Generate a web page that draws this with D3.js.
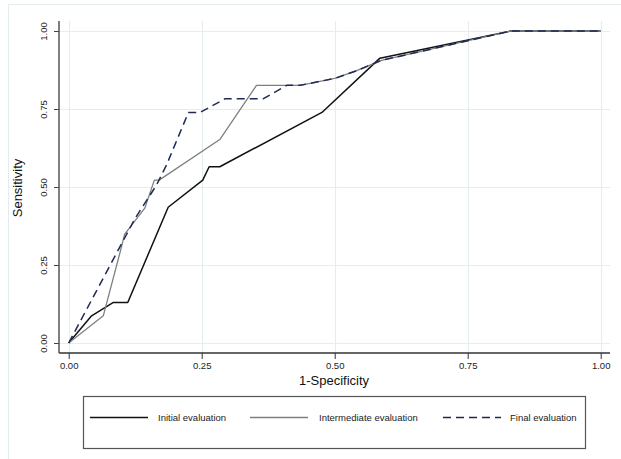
<!DOCTYPE html>
<html>
<head>
<meta charset="utf-8">
<script src="https://cdn.jsdelivr.net/npm/d3@7"></script>
<style>
  body { margin: 0; background: #fff; }
  text { font-family: "Liberation Sans", Arial, Helvetica, sans-serif; }
</style>
</head>
<body>
<script>
// ROC curves, values
var initialX = [0, 0.043, 0.084, 0.111, 0.187, 0.252, 0.264, 0.284, 0.476, 0.585, 0.831, 1];
var initialY = [0, 0.087, 0.130, 0.130, 0.435, 0.522, 0.565, 0.565, 0.739, 0.913, 1, 1];

var interX = [0, 0.065, 0.098, 0.105, 0.143, 0.161, 0.170, 0.284, 0.353, 0.435, 0.5, 0.54, 0.588, 0.831, 1];
var interY = [0, 0.087, 0.30, 0.348, 0.432, 0.522, 0.522, 0.652, 0.826, 0.826, 0.848, 0.872, 0.906, 1, 1];

var finalX = [0, 0.125, 0.165, 0.184, 0.225, 0.247, 0.294, 0.366, 0.41, 0.435, 0.5, 0.54, 0.588, 0.831, 1];
var finalY = [0, 0.40, 0.506, 0.571, 0.739, 0.739, 0.783, 0.783, 0.826, 0.826, 0.848, 0.872, 0.906, 1, 1];

var ticks = [0, 0.25, 0.5, 0.75, 1];
var tickLabels = ['0.00', '0.25', '0.50', '0.75', '1.00'];

var seriesNames = ['Initial evaluation', 'Intermediate evaluation', 'Final evaluation'];

var width = 621, height = 459;

var svg = d3.select('body').append('svg')
  .attr('width', width)
  .attr('height', height);

// outer graph region frame (light)
svg.append('rect')
  .attr('x', 8.5).attr('y', 4.5)
  .attr('width', 640).attr('height', 480)
  .attr('fill', 'none')
  .attr('stroke', '#e3ecef');

var x = d3.scaleLinear().domain([0, 1]).range([68.7, 600.7]);
var y = d3.scaleLinear().domain([0, 1]).range([343, 31]);

var plotLeft = 59, plotRight = 610, plotTop = 21, plotBottom = 353;

// grid lines
var grid = svg.append('g');
grid.selectAll('.gy').data(ticks).enter().append('line')
  .attr('x1', plotLeft).attr('x2', plotRight)
  .attr('y1', function(d) { return Math.round(y(d)) + 0.5; })
  .attr('y2', function(d) { return Math.round(y(d)) + 0.5; })
  .attr('stroke', '#e4eef1').attr('stroke-width', 1.2);
grid.selectAll('.gx').data(ticks).enter().append('line')
  .attr('y1', plotTop).attr('y2', plotBottom)
  .attr('x1', function(d) { return Math.round(x(d)) + 0.5; })
  .attr('x2', function(d) { return Math.round(x(d)) + 0.5; })
  .attr('stroke', '#e4eef1').attr('stroke-width', 1.2);

// axes
var xAxis = d3.axisBottom(x).tickValues(ticks)
  .tickFormat(function(d, i) { return tickLabels[i]; })
  .tickSize(6).tickPadding(3);
var yAxis = d3.axisLeft(y).tickValues(ticks)
  .tickFormat(function(d, i) { return tickLabels[i]; })
  .tickSize(5).tickPadding(4);

var gx = svg.append('g')
  .attr('transform', 'translate(0,' + plotBottom + ')')
  .call(xAxis);
gx.select('.domain').remove();
gx.append('line').attr('x1', plotLeft).attr('x2', plotRight)
  .attr('stroke', '#333').attr('stroke-width', 1.3);
gx.selectAll('.tick line').attr('stroke', '#333');
gx.selectAll('.tick text')
  .attr('fill', '#222')
  .style('font-size', '9.5px')
  .style('font-family', '"Liberation Sans", Arial, sans-serif');

var gy = svg.append('g')
  .attr('transform', 'translate(' + plotLeft + ',0)')
  .call(yAxis);
gy.select('.domain').remove();
gy.append('line').attr('y1', plotTop).attr('y2', plotBottom)
  .attr('stroke', '#555').attr('stroke-width', 1.5);
gy.selectAll('.tick line').attr('stroke', '#444');
gy.selectAll('.tick text')
  .attr('fill', '#222')
  .style('font-size', '9.5px')
  .style('font-family', '"Liberation Sans", Arial, sans-serif')
  .attr('text-anchor', 'middle')
  .attr('x', 0).attr('dy', 0)
  .attr('transform', 'translate(-15,0) rotate(-90)')
  .attr('y', 3);

// axis titles
svg.append('text')
  .attr('x', 334).attr('y', 385)
  .attr('text-anchor', 'middle')
  .style('font-size', '13px')
  .attr('fill', '#111')
  .text('1-Specificity');

svg.append('text')
  .attr('transform', 'translate(22,188) rotate(-90)')
  .attr('text-anchor', 'middle')
  .style('font-size', '13px')
  .attr('fill', '#111')
  .text('Sensitivity');

// curves
var line = d3.line()
  .x(function(d) { return x(d[0]); })
  .y(function(d) { return y(d[1]); });

var series = [
  { pts: d3.zip(initialX, initialY), color: '#111', w: 1.5, dash: null },
  { pts: d3.zip(interX, interY), color: '#7f7f7f', w: 1.3, dash: null },
  { pts: d3.zip(finalX, finalY), color: '#1c2a55', w: 1.5, dash: '8,5' }
];

svg.append('g').selectAll('path').data(series).enter().append('path')
  .attr('d', function(d) { return line(d.pts); })
  .attr('fill', 'none')
  .attr('stroke', function(d) { return d.color; })
  .attr('stroke-width', function(d) { return d.w; })
  .attr('stroke-dasharray', function(d) { return d.dash; })
  .attr('stroke-linejoin', 'round');

// legend
var legend = svg.append('g');
legend.append('rect')
  .attr('x', 83.5).attr('y', 396.5)
  .attr('width', 502).attr('height', 52)
  .attr('fill', '#fff')
  .attr('stroke', '#555').attr('stroke-width', 1.2);

var legendLineX = [90, 250, 443];
var legendTextX = [158, 319, 510];
legend.selectAll('line').data(series).enter().append('line')
  .attr('x1', function(d, i) { return legendLineX[i]; })
  .attr('x2', function(d, i) { return legendLineX[i] + 58; })
  .attr('y1', 417.5).attr('y2', 417.5)
  .attr('stroke', function(d) { return d.color; })
  .attr('stroke-width', function(d) { return d.w; })
  .attr('stroke-dasharray', function(d) { return d.dash; });

legend.selectAll('text').data(seriesNames).enter().append('text')
  .attr('x', function(d, i) { return legendTextX[i]; })
  .attr('y', 421)
  .style('font-size', '9.5px')
  .attr('fill', '#222')
  .text(function(d) { return d; });
</script>
</body>
</html>
